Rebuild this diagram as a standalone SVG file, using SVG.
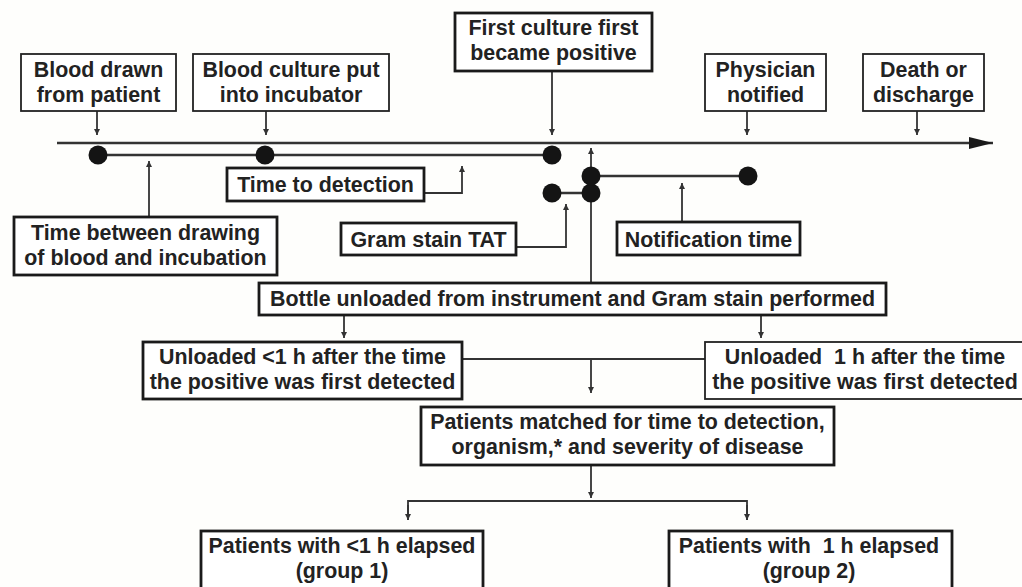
<svg xmlns="http://www.w3.org/2000/svg" width="1022" height="587" viewBox="0 0 1022 587">
<defs>
<style>
.box{fill:#fff;stroke:#222;stroke-width:1.8}
.tbox{fill:#fff;stroke:#1a1a1a;stroke-width:2.8}
.t{font-family:"Liberation Sans",Arial,Helvetica,sans-serif;font-weight:bold;font-size:21.4px;fill:#222;text-anchor:middle}
.ln{fill:none;stroke:#333;stroke-width:1.8}
.tl{fill:none;stroke:#333;stroke-width:2.6}
.dot{fill:#141414}
</style>
<marker id="ah" viewBox="0 0 8 8" refX="8" refY="4" markerWidth="7" markerHeight="6" markerUnits="userSpaceOnUse" orient="auto">
<path d="M0,0 L8,4 L0,8 z" fill="#333"/>
</marker>
<marker id="big" viewBox="0 0 24 12" refX="24" refY="6" markerWidth="24" markerHeight="12" markerUnits="userSpaceOnUse" orient="auto">
<path d="M0,0 L24,6 L0,12 z" fill="#1a1a1a"/>
</marker>
</defs>
<rect width="1022" height="587" fill="#fefefc"/>

<g id="connectors">
<line class="tl" x1="57" y1="143" x2="993" y2="143" marker-end="url(#big)"/>
<line class="ln" x1="97" y1="111" x2="97" y2="135" marker-end="url(#ah)"/>
<line class="ln" x1="266" y1="111" x2="266" y2="135" marker-end="url(#ah)"/>
<line class="ln" x1="552" y1="71" x2="552" y2="135" marker-end="url(#ah)"/>
<line class="ln" x1="747" y1="111" x2="747" y2="135" marker-end="url(#ah)"/>
<line class="ln" x1="917" y1="111" x2="917" y2="135" marker-end="url(#ah)"/>
<line class="tl" x1="98" y1="155" x2="552" y2="155"/>
<line class="ln" x1="149" y1="217" x2="149" y2="161" marker-end="url(#ah)"/>
<polyline class="ln" points="424,193 462,193 462,166" marker-end="url(#ah)"/>
<polyline class="ln" points="516,247 566,247 566,204" marker-end="url(#ah)"/>
<line class="tl" x1="552" y1="193" x2="591" y2="193"/>
<line class="tl" x1="591" y1="176" x2="748" y2="176"/>
<line class="ln" x1="591" y1="283" x2="591" y2="148" marker-end="url(#ah)"/>
<line class="ln" x1="682" y1="222" x2="682" y2="183" marker-end="url(#ah)"/>
<line class="ln" x1="344" y1="315" x2="344" y2="338" marker-end="url(#ah)"/>
<line class="ln" x1="761" y1="315" x2="761" y2="338" marker-end="url(#ah)"/>
<line class="ln" x1="462" y1="359" x2="705" y2="359"/>
<line class="ln" x1="591" y1="359" x2="591" y2="393" marker-end="url(#ah)"/>
<line class="ln" x1="591" y1="465" x2="591" y2="498" marker-end="url(#ah)"/>
<polyline class="ln" points="408,520 408,501 747,501 747,520"/>
<line class="ln" x1="408" y1="505" x2="408" y2="520" marker-end="url(#ah)"/>
<line class="ln" x1="747" y1="505" x2="747" y2="520" marker-end="url(#ah)"/>
<circle class="dot" cx="98" cy="155" r="9.5"/>
<circle class="dot" cx="265" cy="155" r="9.5"/>
<circle class="dot" cx="552" cy="155" r="9.5"/>
<circle class="dot" cx="552" cy="193" r="9.5"/>
<circle class="dot" cx="591" cy="193" r="9.5"/>
<circle class="dot" cx="591" cy="176" r="9.5"/>
<circle class="dot" cx="748" cy="176" r="9.5"/>
</g>

<g id="blood-drawn">
<rect class="box" x="21" y="54" width="155" height="57"/>
<text class="t" x="98.5" y="77">Blood drawn</text>
<text class="t" x="98.5" y="102">from patient</text>
</g>
<g id="incubator">
<rect class="box" x="193" y="54" width="196" height="57"/>
<text class="t" x="291" y="77">Blood culture put</text>
<text class="t" x="291" y="102">into incubator</text>
</g>
<g id="first-positive">
<rect class="tbox" x="455" y="13" width="197" height="58"/>
<text class="t" x="553.5" y="35">First culture first</text>
<text class="t" x="553.5" y="60">became positive</text>
</g>
<g id="physician">
<rect class="box" x="705" y="54" width="121" height="57"/>
<text class="t" x="765.5" y="77">Physician</text>
<text class="t" x="765.5" y="102">notified</text>
</g>
<g id="death">
<rect class="box" x="863" y="54" width="121" height="57"/>
<text class="t" x="923.5" y="77">Death or</text>
<text class="t" x="923.5" y="102">discharge</text>
</g>
<g id="time-detection">
<rect class="tbox" x="227" y="168" width="197" height="33"/>
<text class="t" x="325.5" y="192">Time to detection</text>
</g>
<g id="time-between">
<rect class="tbox" x="14" y="217" width="263" height="58"/>
<text class="t" x="145.5" y="240">Time between drawing</text>
<text class="t" x="145.5" y="265">of blood and incubation</text>
</g>
<g id="gram-tat">
<rect class="tbox" x="341" y="223" width="175" height="32"/>
<text class="t" x="428.5" y="247">Gram stain TAT</text>
</g>
<g id="notification">
<rect class="tbox" x="617" y="222" width="183" height="33"/>
<text class="t" x="708.5" y="247">Notification time</text>
</g>
<g id="bottle">
<rect class="tbox" x="259" y="283" width="627" height="32"/>
<text class="t" x="572.5" y="306">Bottle unloaded from instrument and Gram stain performed</text>
</g>
<g id="unloaded-lt1">
<rect class="tbox" x="143" y="342" width="319" height="57"/>
<text class="t" x="302.5" y="364">Unloaded &lt;1 h after the time</text>
<text class="t" x="302.5" y="389">the positive was first detected</text>
</g>
<g id="unloaded-ge1">
<rect class="box" x="705" y="342" width="330" height="57"/>
<text class="t" x="865" y="364" xml:space="preserve">Unloaded  1 h after the time</text>
<text class="t" x="865" y="389">the positive was first detected</text>
</g>
<g id="matched">
<rect class="tbox" x="421" y="407" width="413" height="58"/>
<text class="t" x="627.5" y="429">Patients matched for time to detection,</text>
<text class="t" x="627.5" y="454">organism,* and severity of disease</text>
</g>
<g id="group1">
<rect class="tbox" x="201" y="531" width="282" height="60"/>
<text class="t" x="342" y="553">Patients with &lt;1 h elapsed</text>
<text class="t" x="342" y="578">(group 1)</text>
</g>
<g id="group2">
<rect class="tbox" x="669" y="531" width="283" height="60"/>
<text class="t" x="809" y="553" xml:space="preserve">Patients with  1 h elapsed</text>
<text class="t" x="809" y="578">(group 2)</text>
</g>
</svg>
